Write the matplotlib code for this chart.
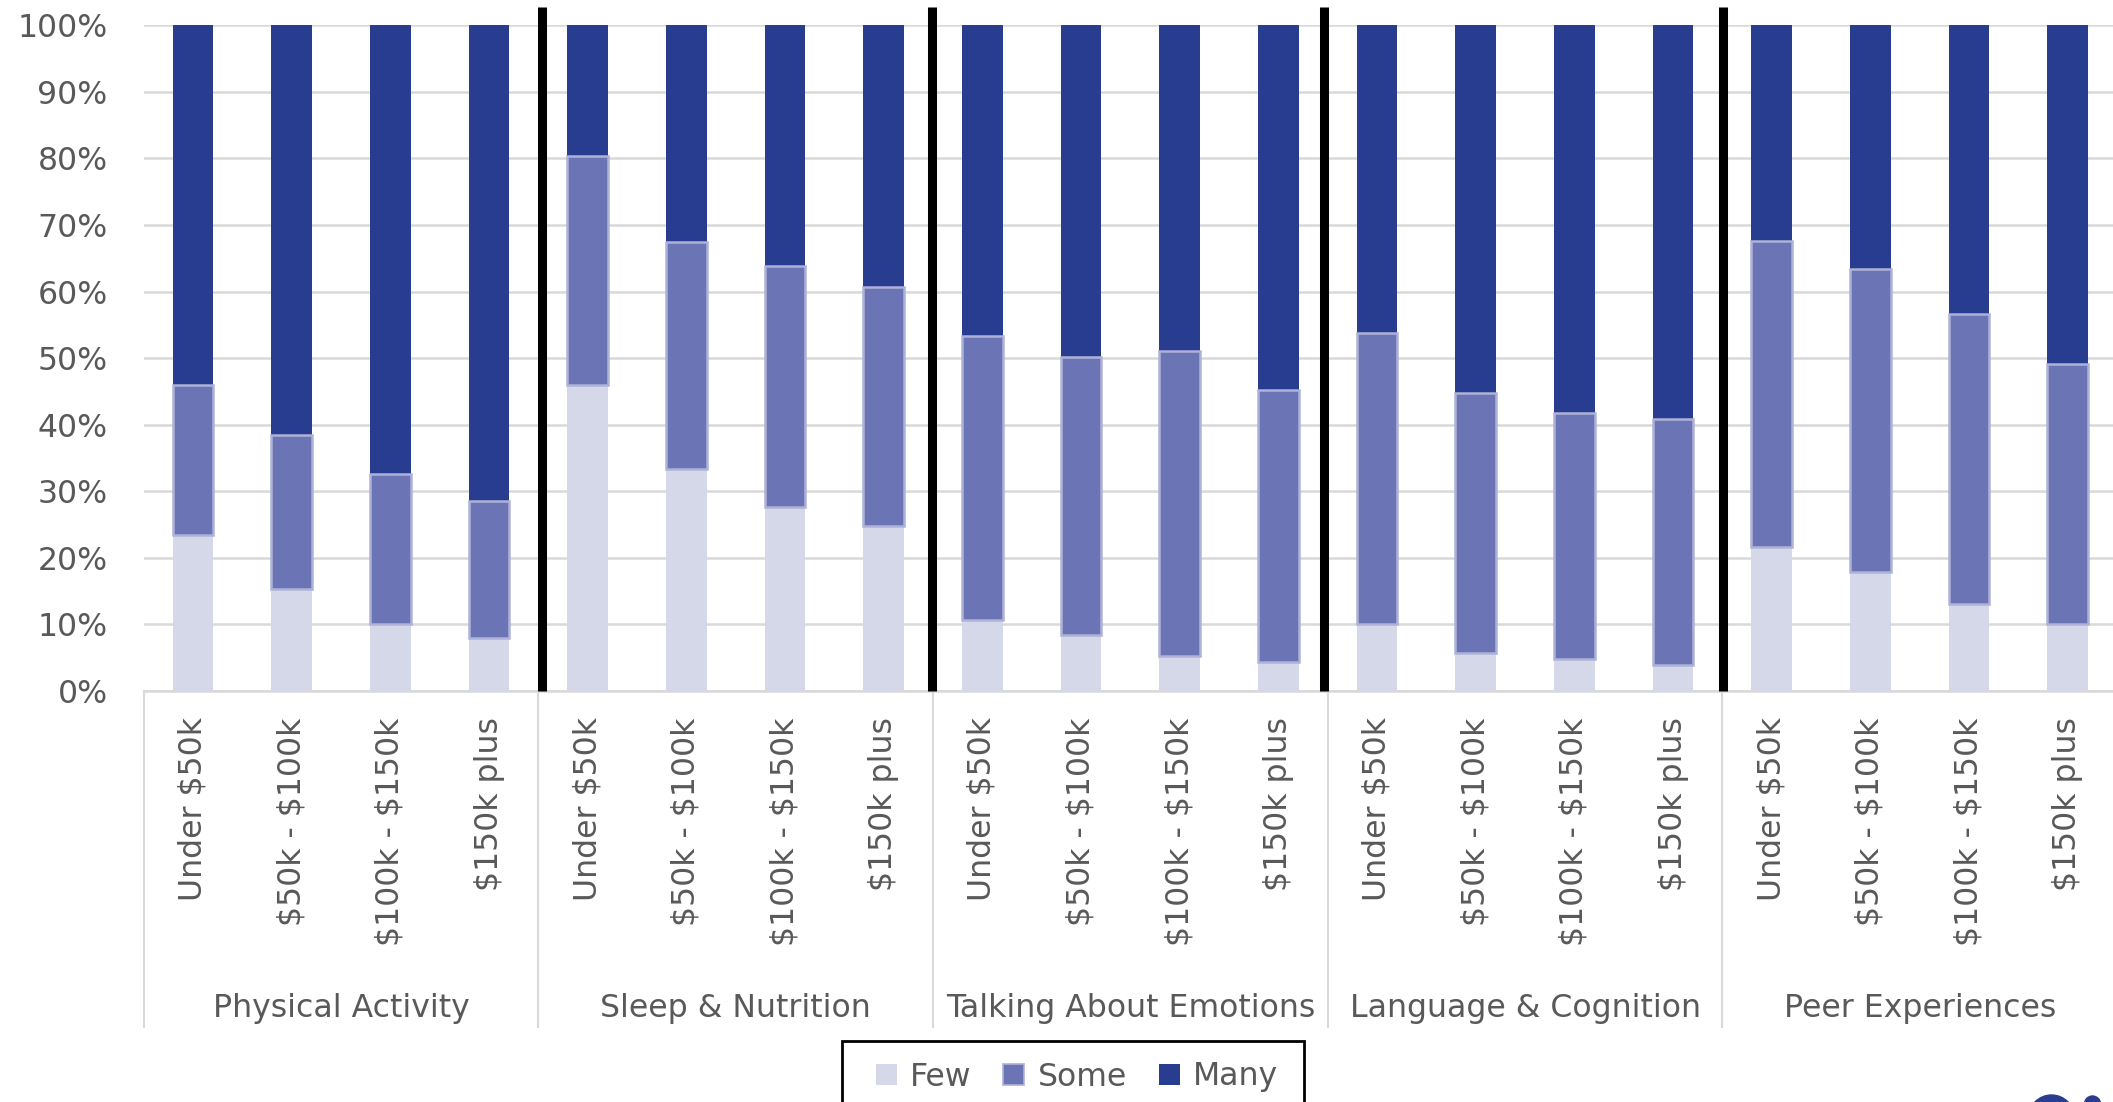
import matplotlib
matplotlib.use("Agg")
import matplotlib.pyplot as plt
from matplotlib.patches import Patch, Rectangle, Ellipse
import numpy as np

# Topics (outer category level) and household income bands (inner level)
topics = ["Physical Activity", "Sleep & Nutrition", "Talking About Emotions",
          "Language & Cognition", "Peer Experiences"]
income_bands = ["Under $50k", "$50k - $100k", "$100k - $150k", "$150k plus"]
series_names = ["Few", "Some", "Many"]

# Share of respondents (%) per topic, one value per income band
few = [
    [23.4, 15.3, 10.1, 7.9],
    [45.9, 33.4, 27.6, 24.8],
    [10.7, 8.4, 5.2, 4.3],
    [10.1, 5.7, 4.8, 3.9],
    [21.6, 17.9, 13.1, 10.1],
]
some = [
    [22.6, 23.1, 22.5, 20.7],
    [34.4, 34.0, 36.3, 35.9],
    [42.7, 41.8, 45.8, 40.9],
    [43.7, 39.1, 36.9, 36.9],
    [46.0, 45.5, 43.6, 39.0],
]
many = [
    [54.0, 61.6, 67.4, 71.4],
    [19.7, 32.6, 36.1, 39.3],
    [46.6, 49.8, 49.0, 54.8],
    [46.2, 55.2, 58.3, 59.2],
    [32.4, 36.6, 43.3, 50.9],
]
y_ticks = [0, 10, 20, 30, 40, 50, 60, 70, 80, 90, 100]

# Styling
FEW_C = "#d5d8e9"
SOME_C = "#6b75b6"
SOME_EDGE = "#aeb2d8"
MANY_C = "#283d8f"
TEXT_C = "#595959"
GRID_C = "#d9d9d9"
FONT_PT = 22.7

plt.rcParams["font.family"] = ["DejaVu Sans"]
plt.rcParams["text.parse_math"] = False

W, H, DPI = 2113, 1102, 100
fig = plt.figure(figsize=(W / DPI, H / DPI), dpi=DPI)
fig.patch.set_facecolor("white")


def fx(px):
    return px / W


def fy(py):
    return 1 - py / H


# Plot area in pixel terms (right edge runs just past the canvas)
ax_l, ax_r, ax_t, ax_b = 143.7, 2117.0, 25.3, 691.0
ax = fig.add_axes([fx(ax_l), fy(ax_b), (ax_r - ax_l) / W, (ax_b - ax_t) / H])
px_per_unit = (ax_b - ax_t) / 100.0

n_groups = len(topics)
n_bands = len(income_bands)
x = np.arange(n_groups * n_bands)
few_flat = np.array(few).ravel()
some_flat = np.array(some).ravel()
many_flat = np.array(many).ravel()

bar_w = 0.41
ax.bar(x, few_flat, width=bar_w, color=FEW_C, linewidth=0, zorder=2)
ax.bar(x, many_flat, bottom=few_flat + some_flat, width=bar_w, color=MANY_C,
       linewidth=0, zorder=2)
ax.bar(x, some_flat, bottom=few_flat, width=bar_w, color=SOME_C,
       edgecolor=SOME_EDGE, linewidth=1.8, zorder=3)

ax.set_xlim(-0.5, n_groups * n_bands - 0.5)
ax.set_ylim(0, 100)
ax.set_yticks(y_ticks)
ax.set_yticklabels([f"{v}%" for v in y_ticks])
ax.yaxis.grid(True, color=GRID_C, linewidth=1.8)
ax.set_axisbelow(True)
for sp in ax.spines.values():
    sp.set_visible(False)

ax.tick_params(axis="y", length=0, pad=26, labelsize=FONT_PT, labelcolor=TEXT_C)
ax.set_xticks(x)
ax.set_xticklabels(income_bands * n_groups, rotation=90, ha="center", va="top")
ax.tick_params(axis="x", length=0, pad=19, labelsize=FONT_PT, labelcolor=TEXT_C)

# Baseline of the category axis
ax.plot([-0.5, n_groups * n_bands - 0.5], [0, 0], color=GRID_C, lw=1.8,
        clip_on=False, zorder=1)

# Light dividers of the two-level category axis
axis_depth = (1027 - ax_b) / px_per_unit
for g in range(n_groups):
    b = g * n_bands - 0.5
    ax.plot([b, b], [0, -axis_depth], color=GRID_C, lw=1.5, clip_on=False)

# Topic names under each group
label_y = -(1008 - ax_b) / px_per_unit
for g, name in enumerate(topics):
    ax.text(g * n_bands + (n_bands - 1) / 2, label_y, name, ha="center",
            va="center", fontsize=FONT_PT, color=TEXT_C, clip_on=False)

# Heavy black separators between topics
sep_positions = [3.54, 7.49, 11.46, 15.51]
sep_top = 100 + (ax_t - 7) / px_per_unit
for s in sep_positions:
    ax.plot([s, s], [0, sep_top], color="black", lw=6.5, clip_on=False,
            solid_capstyle="butt", zorder=5)

# Legend
handles = [Patch(facecolor=FEW_C, edgecolor="none"),
           Patch(facecolor=SOME_C, edgecolor=SOME_EDGE, linewidth=1.2),
           Patch(facecolor=MANY_C, edgecolor="none")]
fig.legend(handles, series_names, loc="center",
           bbox_to_anchor=(fx(1077), fy(1077)), ncol=3, frameon=False,
           fontsize=FONT_PT, labelcolor=TEXT_C, handlelength=0.67,
           handleheight=0.67, handletextpad=0.43, columnspacing=1.0)
fig.add_artist(Rectangle((fx(842), fy(1125)), (1304 - 842) / W,
                         (1125 - 1041) / H, transform=fig.transFigure,
                         fill=False, edgecolor="black", linewidth=2.0))

# Corner logo
fig.add_artist(Ellipse((fx(2051.5), fy(1118)), 46 / W, 46 / H,
                       transform=fig.transFigure, color=MANY_C))
fig.add_artist(Ellipse((fx(2092.5), fy(1104)), 16 / W, 16 / H,
                       transform=fig.transFigure, color=MANY_C))

fig.savefig("out.png", dpi=DPI)
